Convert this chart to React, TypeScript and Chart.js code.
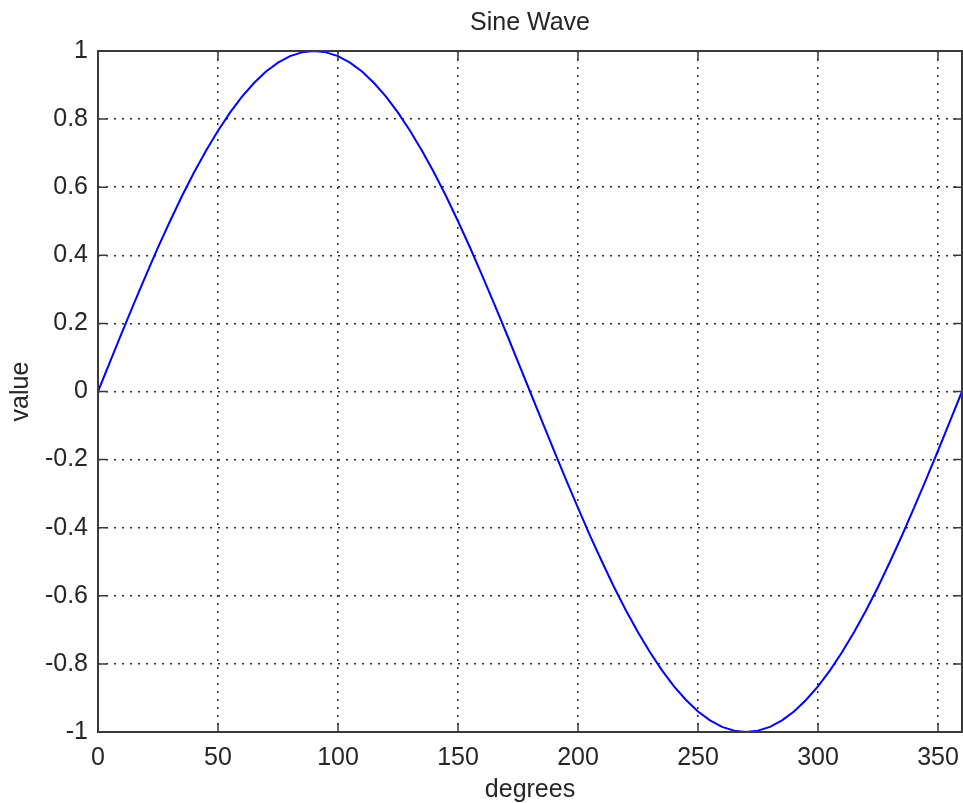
import React, { useEffect, useRef } from "react";
import { Chart, registerables } from "chart.js";

Chart.register(...registerables);

const titleText = "Sine Wave";
const xAxisTitle = "degrees";
const yAxisTitle = "value";

const degrees = [
  0, 5, 10, 15, 20, 25, 30, 35, 40, 45, 50, 55, 60, 65, 70, 75, 80, 85, 90,
  95, 100, 105, 110, 115, 120, 125, 130, 135, 140, 145, 150, 155, 160, 165, 170, 175, 180,
  185, 190, 195, 200, 205, 210, 215, 220, 225, 230, 235, 240, 245, 250, 255, 260, 265, 270,
  275, 280, 285, 290, 295, 300, 305, 310, 315, 320, 325, 330, 335, 340, 345, 350, 355, 360,
];

const values = [
  0, 0.087, 0.174, 0.259, 0.342, 0.423, 0.5, 0.574, 0.643, 0.707, 0.766, 0.819, 0.866, 0.906, 0.94, 0.966, 0.985, 0.996, 1,
  0.996, 0.985, 0.966, 0.94, 0.906, 0.866, 0.819, 0.766, 0.707, 0.643, 0.574, 0.5, 0.423, 0.342, 0.259, 0.174, 0.087, 0,
  -0.087, -0.174, -0.259, -0.342, -0.423, -0.5, -0.574, -0.643, -0.707, -0.766, -0.819, -0.866, -0.906, -0.94, -0.966, -0.985, -0.996, -1,
  -0.996, -0.985, -0.966, -0.94, -0.906, -0.866, -0.819, -0.766, -0.707, -0.643, -0.574, -0.5, -0.423, -0.342, -0.259, -0.174, -0.087, 0,
];

const xTicks = [0, 50, 100, 150, 200, 250, 300, 350];
const yTicks = [-1, -0.8, -0.6, -0.4, -0.2, 0, 0.2, 0.4, 0.6, 0.8, 1];

const FONT = "'Liberation Sans', Arial, Helvetica, sans-serif";
const TEXT = "#262626";

const boxPlugin = {
  id: "matlabBox",
  afterDraw(chart: any) {
    const { ctx, chartArea } = chart;
    const { left, right, top, bottom } = chartArea;
    const xs = chart.scales.x;
    const ys = chart.scales.y;
    const tl = 9;
    ctx.save();
    ctx.strokeStyle = "#3a3a3a";
    ctx.lineWidth = 1.5;
    ctx.beginPath();
    xTicks.forEach((v) => {
      const p = xs.getPixelForValue(v);
      ctx.moveTo(p, bottom);
      ctx.lineTo(p, bottom - tl);
      ctx.moveTo(p, top);
      ctx.lineTo(p, top + tl);
    });
    yTicks.forEach((v) => {
      const p = ys.getPixelForValue(v);
      ctx.moveTo(left, p);
      ctx.lineTo(left + tl, p);
      ctx.moveTo(right, p);
      ctx.lineTo(right - tl, p);
    });
    ctx.stroke();
    ctx.lineWidth = 2;
    ctx.strokeRect(left, top, right - left, bottom - top);
    ctx.restore();
  },
};

export default function App() {
  const canvasRef = useRef<HTMLCanvasElement | null>(null);

  useEffect(() => {
    if (!canvasRef.current) return;
    const chart = new Chart(canvasRef.current, {
      type: "line",
      data: {
        datasets: [
          {
            data: degrees.map((d, i) => ({ x: d, y: values[i] })),
            borderColor: "#0000ff",
            borderWidth: 2,
            pointRadius: 0,
            tension: 0,
            fill: false,
          },
        ],
      },
      options: {
        animation: false,
        responsive: false,
        maintainAspectRatio: false,
        layout: { padding: { left: 0, right: 1, top: 0, bottom: 0 } },
        plugins: {
          legend: { display: false },
          tooltip: { enabled: false },
          title: {
            display: true,
            fullSize: false,
            text: titleText,
            color: TEXT,
            font: { family: FONT, size: 25, weight: "normal", lineHeight: 1.2 },
            padding: { top: 8, bottom: 13 },
          },
        },
        scales: {
          x: {
            type: "linear",
            min: 0,
            max: 360,
            afterBuildTicks: (scale: any) => {
              scale.ticks = xTicks.map((v) => ({ value: v }));
            },
            afterFit: (scale: any) => {
              scale.height = 71;
              scale.paddingLeft = 0;
              scale.paddingRight = 0;
            },
            border: { display: false, dash: [2, 6] },
            grid: {
              color: "#2a2a2a",
              lineWidth: 1.5,
              drawTicks: false,
            },
            ticks: {
              padding: 11,
              maxRotation: 0,
              autoSkip: false,
              color: TEXT,
              font: { family: FONT, size: 25 },
              callback: (v: any) => String(v),
            },
            title: {
              display: true,
              text: xAxisTitle,
              color: TEXT,
              font: { family: FONT, size: 25, lineHeight: 1 },
              padding: { top: 0, bottom: 0 },
            },
          },
          y: {
            type: "linear",
            min: -1,
            max: 1,
            afterBuildTicks: (scale: any) => {
              scale.ticks = yTicks.map((v) => ({ value: v }));
            },
            afterFit: (scale: any) => {
              scale.width = 98;
              scale.paddingTop = 0;
              scale.paddingBottom = 0;
            },
            border: { display: false, dash: [2, 6] },
            grid: {
              color: "#2a2a2a",
              lineWidth: 1.5,
              drawTicks: false,
            },
            ticks: {
              padding: 10,
              autoSkip: false,
              color: TEXT,
              font: { family: FONT, size: 25 },
              callback: (v: any) => String(Math.round(v * 10) / 10),
            },
            title: {
              display: true,
              text: yAxisTitle,
              color: TEXT,
              font: { family: FONT, size: 25, lineHeight: 1.2 },
              padding: { top: 6, bottom: 0 },
            },
          },
        },
      },
      plugins: [boxPlugin],
    } as any);
    return () => chart.destroy();
  }, []);

  return (
    <div style={{ position: "fixed", left: 0, top: 0, width: 963, height: 803, background: "#fff" }}>
      <canvas ref={canvasRef} width={963} height={803} style={{ display: "block" }} />
    </div>
  );
}
